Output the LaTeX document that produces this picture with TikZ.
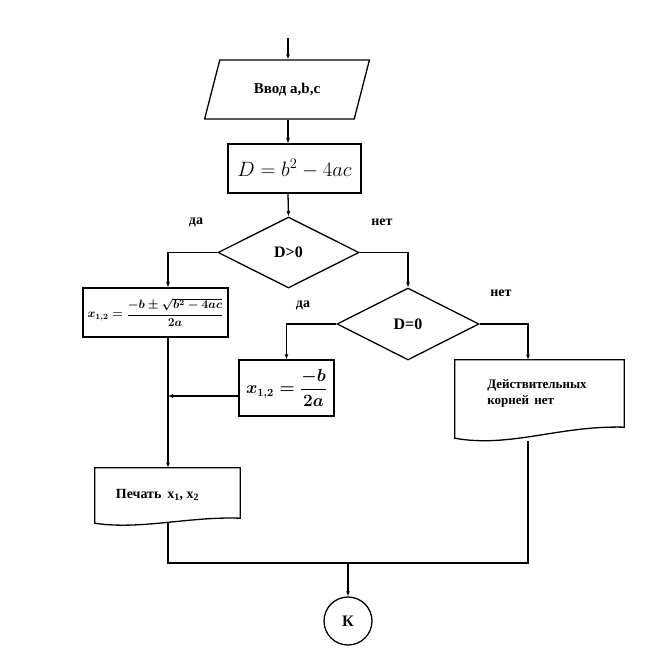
\documentclass[tikz,border=0pt]{standalone}
\usepackage{fontspec}
\setmainfont{Liberation Serif}
\usetikzlibrary{shapes.geometric,arrows.meta,calc}
\begin{document}
\begin{tikzpicture}[x=1pt,y=-1pt]
	\tikzstyle{block}=[rectangle,draw=black,line width=1.3pt,inner sep=0pt]
	\tikzstyle{inputbox}=[trapezium,trapezium left angle=60,trapezium right angle=120,trapezium stretches=true,draw=black,line width=1.3pt,inner sep=0pt,minimum width=166pt,minimum height=59pt,font=\fontsize{15}{17}\selectfont\bfseries]
	\tikzstyle{decision}=[diamond,draw=black,line width=1.3pt,inner sep=0pt,font=\fontsize{16}{18}\selectfont\bfseries]
	\tikzstyle{docbox}=[rectangle,inner sep=0pt]
	\tikzstyle{answer}=[font=\fontsize{14}{16}\selectfont\bfseries]
	\tikzstyle{edge}=[draw,line width=1.3pt,-{Latex[length=5pt,width=4pt]}]
	\tikzstyle{wire}=[draw,line width=1.3pt]
	\useasboundingbox (0,0) rectangle (660,672);
	\begin{scope}
		\coordinate (top) at (288,38);
		\node [inputbox] (input) at (287,89.5) {Ввод a,b,c};
		\node [block,minimum width=133pt,minimum height=49pt,font=\fontsize{21}{23}\selectfont] (disc) at (294.5,168.5) {$D=b^2-4ac$};
		\node [decision,minimum width=141pt,minimum height=71pt] (pos) at (288.5,252.5) {D>0};
		\node [decision,minimum width=142pt,minimum height=72pt] (zero) at (408,324) {D=0};
		\node [block,minimum width=145pt,minimum height=49pt,font=\fontsize{12}{14}\selectfont\boldmath] (roots) at (155.5,312.5) {$x_{1,2}=\displaystyle\frac{-b\pm\sqrt{b^2-4ac}}{2a}$};
		\node [block,minimum width=95pt,minimum height=56pt,font=\fontsize{16}{18}\selectfont\boldmath] (root) at (286.5,388) {$x_{1,2}=\displaystyle\frac{-b}{2a}$};
		\node [docbox,minimum width=145pt,minimum height=55pt] (print) at (167.5,495.5) {};
		\node [docbox,minimum width=169pt,minimum height=80pt] (noroot) at (539.5,400) {};
		\node [circle,draw=black,line width=1.3pt,minimum size=48pt,font=\fontsize{16}{18}\selectfont\bfseries] (stop) at (348,621) {К};
		\coordinate (lx) at (168,563);
		\coordinate (rx) at (528,563);
		\coordinate (join) at (348,563);
		\coordinate (rootout) at ([yshift=-8pt]root.west);
		% document outlines
		\draw [line width=1.3pt] (print.north west) -- (print.north east) -- ($(print.south east)+(0,-5)$)
			.. controls ($(print.south east)+(-50,-7)$) and ($(print.south west)+(45,7)$) .. (print.south west) -- cycle;
		\draw [line width=1.3pt] (noroot.north west) -- (noroot.north east) -- ($(noroot.south east)+(0,-13)$)
			.. controls ($(noroot.south east)+(-64,-15)$) and ($(noroot.south west)+(55,8)$) .. ($(noroot.south west)+(0,-2)$) -- cycle;
		\node [answer] (printtxt) at (157.5,495) {Печать\, x\textsubscript{1}, x\textsubscript{2}};
		\node [answer,font=\fontsize{13}{16}\selectfont\bfseries,align=left] (noroottxt) at (537,393) {Действительных\\корней\, нет};
		% labels
		\node [answer] (yes1) at (196,222) {да};
		\node [answer] (no1) at (382,222) {нет};
		\node [answer] (yes2) at (303,305) {да};
		\node [answer] (no2) at (501,293) {нет};
		% connectors
		\path[edge] (top) -- (top |- input.north);
		\path[edge] (top |- input.south) -- (top |- disc.north);
		\path[edge] (top |- disc.south) -- (pos.north);
		\path[edge] (pos.west) -| (lx |- roots.north);
		\path[edge] (pos.east) -| (zero.north);
		\path[edge] (zero.west) -| (root.north);
		\path[edge] (zero.east) -| (rx |- noroot.north);
		\path[edge] (rootout) -- (lx |- rootout);
		\path[edge] (lx |- roots.south) -- (lx |- print.north);
		\path[wire] (lx |- print.south) -- (lx) -- (rx) -- ($(rx |- noroot.south)+(0,1)$);
		\path[edge] (join) -- (stop.north);
	\end{scope}
\end{tikzpicture}
\end{document}
